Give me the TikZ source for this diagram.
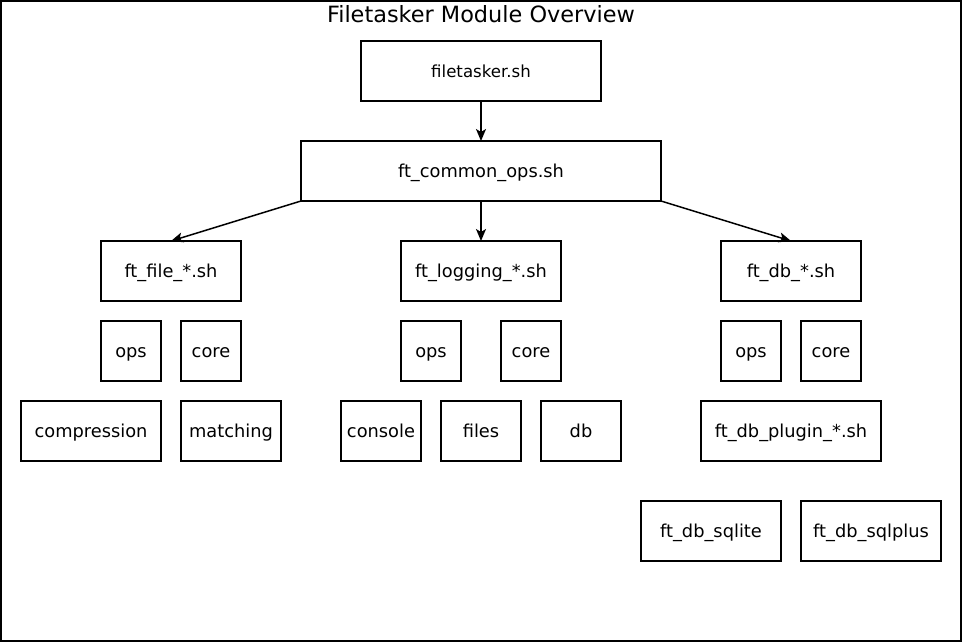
\documentclass[tikz,border=0pt]{standalone}
\usepackage{fontspec}
\setmainfont{DejaVu Sans}
\usetikzlibrary{arrows.meta}

\begin{document}
\begin{tikzpicture}[x=1pt, y=-1pt,
    box/.style={draw, line width=1.5pt, inner sep=0pt, outer sep=0pt,
        text height=12pt, text depth=0pt,
        font=\fontsize{17.8}{21}\selectfont},
    link/.style={-{Stealth[length=12pt, width=10pt, inset=3pt]}, line width=1.5pt}]
    \useasboundingbox (0,0) rectangle (963,643);
    % frame and title
    \draw[line width=1.5pt] (1,1) rectangle (961,641);
    \node[font=\fontsize{22.4}{26}\selectfont] (title) at (481,14) {Filetasker Module Overview};

    % top levels
    \node[box, minimum width=240pt, minimum height=60pt, font=\fontsize{16.6}{20}\selectfont] (main) at (481,71) {filetasker.sh};
    \node[box, minimum width=360pt, minimum height=60pt] (common) at (481,171) {ft\_common\_ops.sh};

    % module groups
    \node[box, minimum width=140pt, minimum height=60pt] (file) at (171,271) {ft\_file\_*.sh};
    \node[box, minimum width=160pt, minimum height=60pt] (logging) at (481,271) {ft\_logging\_*.sh};
    \node[box, minimum width=140pt, minimum height=60pt] (db) at (791,271) {ft\_db\_*.sh};

    % file parts
    \node[box, minimum width=60pt, minimum height=60pt] (fileops) at (131,351) {ops};
    \node[box, minimum width=60pt, minimum height=60pt] (filecore) at (211,351) {core};
    \node[box, minimum width=140pt, minimum height=60pt] (compression) at (91,431) {compression};
    \node[box, minimum width=100pt, minimum height=60pt] (matching) at (231,431) {matching};

    % logging parts
    \node[box, minimum width=60pt, minimum height=60pt] (logops) at (431,351) {ops};
    \node[box, minimum width=60pt, minimum height=60pt] (logcore) at (531,351) {core};
    \node[box, minimum width=80pt, minimum height=60pt] (console) at (381,431) {console};
    \node[box, minimum width=80pt, minimum height=60pt] (files) at (481,431) {files};
    \node[box, minimum width=80pt, minimum height=60pt] (logdb) at (581,431) {db};

    % db parts
    \node[box, minimum width=60pt, minimum height=60pt] (dbops) at (751,351) {ops};
    \node[box, minimum width=60pt, minimum height=60pt] (dbcore) at (831,351) {core};
    \node[box, minimum width=180pt, minimum height=60pt] (plugin) at (791,431) {ft\_db\_plugin\_*.sh};
    \node[box, minimum width=140pt, minimum height=60pt] (sqlite) at (711,531) {ft\_db\_sqlite};
    \node[box, minimum width=140pt, minimum height=60pt] (sqlplus) at (871,531) {ft\_db\_sqlplus};

    % arrows
    \draw[link] (main.south) -- (common.north);
    \draw[link] (common.south west) -- (file.north);
    \draw[link] (common.south) -- (logging.north);
    \draw[link] (common.south east) -- (db.north);
\end{tikzpicture}
\end{document}
